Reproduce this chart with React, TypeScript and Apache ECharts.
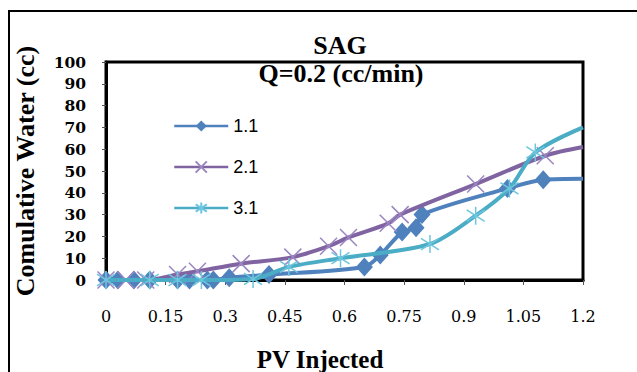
import React, { useEffect, useRef } from "react";
import * as echarts from "echarts";

const xTicks = [0, 0.15, 0.3, 0.45, 0.6, 0.75, 0.9, 1.05, 1.2];
const yTicks = [0, 10, 20, 30, 40, 50, 60, 70, 80, 90, 100];

const seriesNames = ["1.1", "2.1", "3.1"];

const s1X = [0, 0.03, 0.07, 0.11, 0.18, 0.21, 0.255, 0.27, 0.31, 0.41, 0.65, 0.69, 0.745, 0.78, 0.795, 1.01, 1.1, 1.2];
const s1Y = [0, 0, 0, 0, 0, 0, 0, 0, 1, 2.5, 6, 11.5, 22, 24, 30, 42, 46, 46.5];

const s2X = [0, 0.05, 0.1, 0.18, 0.23, 0.34, 0.47, 0.56, 0.61, 0.71, 0.74, 0.93, 1.105, 1.2];
const s2Y = [0, 0, 0, 2.5, 4, 7.5, 10.5, 15.5, 19.5, 26, 30, 44, 57, 61];

const s3X = [0, 0.11, 0.18, 0.24, 0.37, 0.46, 0.59, 0.815, 0.93, 1.015, 1.08, 1.2];
const s3Y = [0, 0, 0, 0, 0.5, 6, 10, 16.5, 29.5, 42, 58.5, 70];

const colors = ["#4F81BD", "#8064A2", "#4BACC6"];
const markerColors = ["#4F81BD", "#9B86C2", "#6EC6DE"];

const X_SYMBOL = "path://M0,0L10,10M10,0L0,10";
const STAR_SYMBOL = "path://M5,0L5,10M0,1.8L10,8.2M10,1.8L0,8.2";

function toData(xs: number[], ys: number[]) {
  return xs.map((x, i) =>
    i === xs.length - 1 ? { value: [x, ys[i]], symbol: "none" } : { value: [x, ys[i]] }
  );
}

export default function App() {
  const ref = useRef<HTMLDivElement>(null);
  useEffect(() => {
    if (!ref.current) return;
    const chart = echarts.init(ref.current, undefined, { renderer: "svg" });
    const serif = "'Liberation Serif', 'Times New Roman', serif";
    const tickFont = "'DejaVu Serif', serif";
    const sets = [
      { xs: s1X, ys: s1Y, symbol: "diamond", size: [17, 19] },
      { xs: s2X, ys: s2Y, symbol: X_SYMBOL, size: 17 },
      { xs: s3X, ys: s3Y, symbol: STAR_SYMBOL, size: 18 },
    ];
    chart.setOption({
      animation: false,
      backgroundColor: "#fff",
      grid: {
        left: 106,
        top: 62,
        right: 54,
        bottom: 92,
        show: true,
        borderColor: "#000",
        borderWidth: 3,
        backgroundColor: "transparent",
      },
      legend: {
        data: seriesNames,
        orient: "vertical",
        left: 168,
        top: 112,
        itemWidth: 54,
        itemHeight: 14,
        itemGap: 23,
        textStyle: { fontSize: 18, fontFamily: "'Liberation Sans', Arial, sans-serif", color: "#000", lineHeight: 18 },
        lineStyle: { width: 2.5 },
      },
      xAxis: {
        type: "value",
        min: 0,
        max: 1.2,
        interval: 0.15,
        axisLine: { show: true, lineStyle: { color: "#000", width: 3 } },
        axisTick: { show: true, inside: false, length: 5, lineStyle: { color: "#555", width: 1 } },
        splitLine: { show: false },
        axisLabel: {
          margin: 28,
          fontSize: 16,
          fontFamily: tickFont,
          color: "#000",
          formatter: (v: number) => {
            const t = xTicks.find((k) => Math.abs(k - v) < 1e-6);
            return t === undefined ? "" : String(t);
          },
        },
      },
      yAxis: {
        type: "value",
        min: 0,
        max: 100,
        interval: 10,
        name: "Comulative Water (cc)",
        nameLocation: "middle",
        nameGap: 68,
        nameTextStyle: { fontSize: 26, fontWeight: "bold", fontFamily: serif, color: "#000" },
        axisLine: { show: true, lineStyle: { color: "#000", width: 3 } },
        axisTick: { show: true, inside: false, length: 4, lineStyle: { color: "#555", width: 1 } },
        splitLine: { show: false },
        axisLabel: {
          margin: 20,
          fontSize: 15.5,
          fontWeight: "bold",
          fontFamily: tickFont,
          color: "#000",
          formatter: (v: number) => {
            const t = yTicks.find((k) => Math.abs(k - v) < 1e-6);
            return t === undefined ? "" : String(t);
          },
        },
      },
      series: sets.map((s, i) => ({
        name: seriesNames[i],
        type: "line",
        smooth: 0.3,
        clip: false,
        data: toData(s.xs, s.ys),
        symbol: s.symbol,
        symbolSize: s.size,
        showAllSymbol: true,
        lineStyle: { color: colors[i], width: 4 },
        itemStyle:
          i === 0
            ? { color: markerColors[i], borderColor: markerColors[i], borderWidth: 0 }
            : { color: "none", borderColor: markerColors[i], borderWidth: 1.5 },
        z: 2 + i,
      })),
      graphic: [
        {
          type: "rect",
          shape: { x: 9, y: 11, width: 800, height: 600 },
          style: { fill: "none", stroke: "#000", lineWidth: 2 },
          silent: true,
        },
        {
          type: "text",
          x: 340,
          y: 45,
          style: {
            text: "SAG",
            fontSize: 26,
            fontWeight: "bold",
            fontFamily: serif,
            fill: "#000",
            align: "center",
            verticalAlign: "middle",
          },
          z: 10,
        },
        {
          type: "text",
          x: 341,
          y: 73,
          style: {
            text: "Q=0.2 (cc/min)",
            fontSize: 26,
            fontWeight: "bold",
            fontFamily: serif,
            fill: "#000",
            align: "center",
            verticalAlign: "middle",
          },
          z: 10,
        },
        {
          type: "text",
          x: 320,
          y: 359,
          style: {
            text: "PV Injected",
            fontSize: 25,
            fontWeight: "bold",
            fontFamily: serif,
            fill: "#000",
            align: "center",
            verticalAlign: "middle",
          },
          z: 10,
        },
      ],
    });
    return () => chart.dispose();
  }, []);
  return <div ref={ref} style={{ width: 637, height: 372, position: "fixed", left: 0, top: 0 }} />;
}
